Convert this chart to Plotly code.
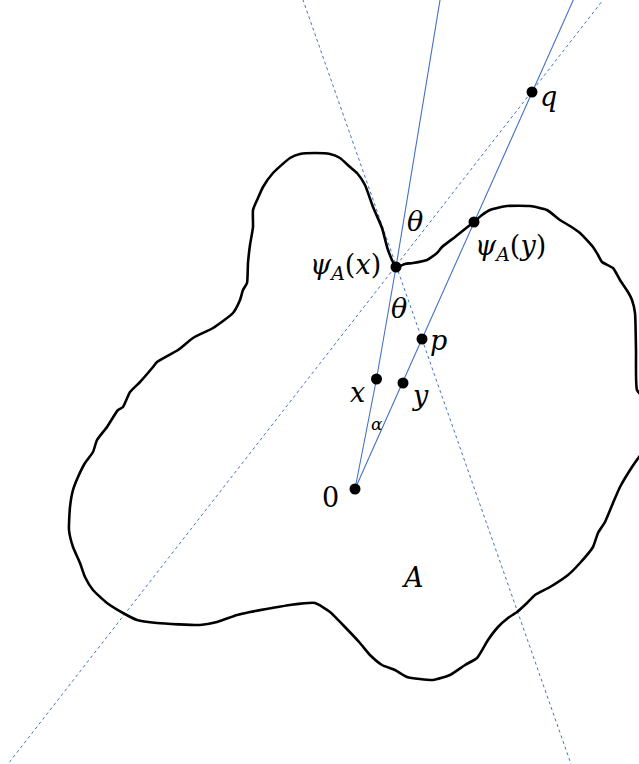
import plotly.graph_objects as go

# Boundary of the set A (pixel-space coordinates of the diagram)
curve_x = [396, 405, 413, 427, 437, 442, 455, 465, 474, 482, 490, 507, 530, 547, 560, 570, 580, 593, 598, 602,
           613, 620, 628, 632, 635, 636, 637, 645, 645, 639, 632, 620, 613, 605, 598, 593, 580, 568, 550, 535,
           527, 517, 508, 498, 488, 477, 465, 450, 433, 407, 395, 382, 370, 360, 343, 330, 315, 290, 272, 250,
           237, 217, 200, 157, 137, 123, 107, 93, 85, 80, 73, 69, 70, 73, 78, 85, 93, 97, 107, 118,
           123, 130, 140, 153, 157, 178, 193, 213, 233, 240, 243, 247, 248, 250, 253, 253, 258, 263, 273, 290,
           300, 315, 330, 340, 350, 357, 365, 373, 382, 388, 396]
curve_y = [267, 264, 263, 260, 253, 247, 237, 229, 222, 215, 210, 206, 206, 210, 220, 226, 233, 247, 255, 262,
           268, 280, 292, 300, 313, 350, 390, 400, 450, 457, 467, 487, 503, 522, 533, 547, 563, 575, 587, 595,
           603, 612, 618, 627, 640, 658, 665, 675, 680, 677, 670, 665, 655, 643, 625, 612, 603, 605, 608, 612,
           615, 622, 625, 623, 620, 613, 603, 590, 577, 563, 547, 530, 507, 490, 477, 463, 452, 440, 427, 410,
           407, 392, 382, 367, 362, 350, 338, 328, 313, 300, 290, 283, 263, 245, 227, 210, 198, 187, 173, 158,
           154, 153, 154, 158, 167, 173, 185, 207, 228, 250, 267]

# Named points
point_names = ["0", "x", "y", "psiA_x", "psiA_y", "p", "q"]
point_x = [355, 376.5, 403, 396, 474, 422, 532]
point_y = [489, 379, 383, 267, 222, 339, 92]

# Solid rays from 0
ray1_x = [355, 376.5, 396, 440, 442]
ray1_y = [489, 379, 267, 0, -12]
ray2_x = [355, 573, 580]
ray2_y = [489, 0, -15]

# Dotted lines through psi_A(x)
dot1_x = [299, 303, 571, 575]
dot1_y = [-12, 0, 764, 776]
dot2_x = [612, 603, 8, 0]
dot2_y = [-12, 0, 764, 776]

# Labels
label_text = ["<i>θ</i>", "<i>θ</i>", "<i>ψ</i><sub><i>A</i></sub>(<i>x</i>)", "<i>ψ</i><sub><i>A</i></sub>(<i>y</i>)",
              "<i>q</i>", "<i>p</i>", "<i>x</i>", "<i>y</i>", "0", "<i>A</i>"]
label_x = [415, 399, 345, 510, 548, 438, 357, 420, 330, 412]
label_y = [221, 308, 266, 247, 96, 340, 392, 395, 497, 577]

BLUE = "#4472C4"
SERIF = "DejaVu Serif"
W, H = 639, 764

fig = go.Figure()
fig.add_trace(go.Scatter(x=dot1_x, y=dot1_y, mode="lines",
                         line=dict(color=BLUE, width=1, dash="dot"), hoverinfo="skip"))
fig.add_trace(go.Scatter(x=dot2_x, y=dot2_y, mode="lines",
                         line=dict(color=BLUE, width=1, dash="dot"), hoverinfo="skip"))
fig.add_trace(go.Scatter(x=ray1_x, y=ray1_y, mode="lines",
                         line=dict(color=BLUE, width=1.1), hoverinfo="skip"))
fig.add_trace(go.Scatter(x=ray2_x, y=ray2_y, mode="lines",
                         line=dict(color=BLUE, width=1.1), hoverinfo="skip"))
fig.add_trace(go.Scatter(x=curve_x, y=curve_y, mode="lines",
                         line=dict(color="black", width=2.6, shape="spline", smoothing=0.5), hoverinfo="skip"))
fig.add_trace(go.Scatter(x=point_x, y=point_y, mode="markers", text=point_names,
                         marker=dict(color="black", size=11), hoverinfo="skip"))

for t, lx, ly in zip(label_text, label_x, label_y):
    fig.add_annotation(x=lx, y=ly, text=t, showarrow=False,
                       font=dict(family=SERIF, size=27, color="black"),
                       xanchor="center", yanchor="middle")
fig.add_annotation(x=377, y=424, text="<i>α</i>", showarrow=False,
                   font=dict(family=SERIF, size=17, color="black"),
                   xanchor="center", yanchor="middle")

fig.update_layout(
    width=W, height=H,
    margin=dict(l=0, r=0, t=0, b=0),
    paper_bgcolor="white", plot_bgcolor="white",
    showlegend=False,
    hovermode=False,
    font=dict(family=SERIF),
    xaxis=dict(range=[0, W], visible=False, fixedrange=True),
    yaxis=dict(range=[H, 0], visible=False, fixedrange=True),
)
fig.write_html("out.html", config={"displayModeBar": False, "staticPlot": True},
               post_script="document.body.style.margin='0';document.body.style.overflow='hidden';")
